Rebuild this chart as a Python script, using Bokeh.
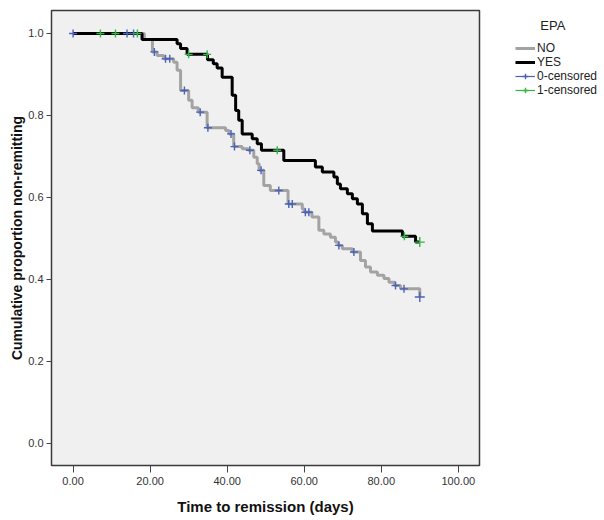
import numpy as np
from bokeh.plotting import figure
from bokeh.models import Range1d, FixedTicker, PrintfTickFormatter, Legend, LegendItem
from bokeh.embed import file_html
from bokeh.resources import INLINE

# ---- data ----
end_time = 90.0

no_times = [0, 18.5, 20.6, 21.8, 23.5, 26.1, 27.0, 27.9, 30.0, 30.9, 32.5, 34.8, 39.6, 40.5,
            41.7, 43.9, 45.5, 46.9, 47.8, 48.3, 49.5, 51.2, 55.8, 59.5, 60.1, 62.0, 63.8,
            65.1, 66.8, 68.1, 68.8, 69.9, 72.5, 74.6, 75.9, 77.2, 79.0, 80.7, 82.0, 83.5,
            85.0, 90.0]
no_surv = [1.0, 0.985, 0.955, 0.946, 0.938, 0.930, 0.910, 0.861, 0.837, 0.819, 0.808, 0.770,
           0.763, 0.755, 0.724, 0.719, 0.715, 0.698, 0.682, 0.666, 0.629, 0.617, 0.584, 0.572,
           0.564, 0.552, 0.520, 0.511, 0.503, 0.491, 0.483, 0.475, 0.467, 0.446, 0.430, 0.418,
           0.410, 0.402, 0.393, 0.385, 0.377, 0.357]
no_censor = [0, 14.0, 15.7, 21.1, 24.0, 25.1, 28.9, 33.0, 35.0, 41.0, 41.9, 45.9, 48.8, 53.4,
             56.0, 56.9, 60.3, 61.2, 69.0, 72.9, 83.7, 85.9, 90.0]

yes_times = [0, 17.9, 27.0, 27.9, 29.6, 34.9, 36.4, 37.4, 38.7, 41.3, 42.2, 43.0, 43.9, 46.5,
             47.8, 48.9, 54.7, 62.9, 64.7, 67.7, 68.6, 69.4, 71.2, 72.5, 73.8, 75.1, 76.4,
             77.7, 85.5, 88.9]
yes_surv = [1.0, 0.985, 0.975, 0.963, 0.949, 0.936, 0.926, 0.916, 0.893, 0.849, 0.812, 0.788,
            0.755, 0.743, 0.731, 0.715, 0.690, 0.674, 0.662, 0.650, 0.633, 0.621, 0.609, 0.597,
            0.584, 0.560, 0.536, 0.518, 0.505, 0.491]
yes_censor = [7.1, 11.0, 16.7, 30.0, 34.8, 53.0, 86.0, 90.0]

x_ticks = [0, 20, 40, 60, 80, 100]
y_ticks = [0.0, 0.2, 0.4, 0.6, 0.8, 1.0]


def step_xy(t, s, end):
    return list(t) + [end], list(s) + [s[-1]]


def surv_at(t, s, c):
    idx = np.searchsorted(np.array(t), np.array(c), side="right") - 1
    return list(np.array(s)[idx])


FONT = "Liberation Sans"
GRAY = "#a3a3a3"
BLUE = "#4a62b8"
GREEN = "#33b548"

p = figure(frame_width=428, frame_height=455, output_backend="svg", toolbar_location=None,
           x_range=Range1d(-5.6, 105.5), y_range=Range1d(-0.054, 1.056),
           min_border_left=51, min_border_right=117, min_border_top=10, min_border_bottom=47,
           background_fill_color="#f0f0f0", border_fill_color="white")
p.outline_line_color = "#3a3a3a"
p.outline_line_width = 1.5
p.grid.visible = False

p.xaxis.ticker = FixedTicker(ticks=x_ticks)
p.xaxis.formatter = PrintfTickFormatter(format="%.2f")
p.yaxis.ticker = FixedTicker(ticks=y_ticks)
p.yaxis.formatter = PrintfTickFormatter(format="%.1f")
for ax in (p.xaxis, p.yaxis):
    ax.axis_line_color = None
    ax.major_tick_in = 0
    ax.minor_tick_line_color = None
    ax.major_tick_line_color = "#444444"
    ax.major_label_text_font = FONT
    ax.major_label_text_font_size = "11px"
    ax.major_label_text_color = "#333333"
    ax.axis_label_text_font = FONT
    ax.axis_label_text_font_style = "bold"
    ax.axis_label_text_color = "#111111"
p.xaxis.axis_label_text_font_size = "15px"
p.yaxis.axis_label_text_font_size = "14px"
p.xaxis.major_tick_out = 7
p.yaxis.major_tick_out = 5
p.xaxis.major_label_standoff = 4
p.yaxis.major_label_standoff = 3
p.xaxis.axis_label_standoff = 10
p.yaxis.axis_label_standoff = 0
p.xaxis.axis_label = "Time to remission (days)"
p.yaxis.axis_label = "Cumulative proportion non-remitting"

nx, ny = step_xy(no_times, no_surv, end_time)
yx, yy = step_xy(yes_times, yes_surv, end_time)
no_line = p.step(nx, ny, mode="after", line_color=GRAY, line_width=3)
yes_line = p.step(yx, yy, mode="after", line_color="black", line_width=3)

no_sizes = [10 if c == end_time else 8 for c in no_censor]
yes_sizes = [10 if c == end_time else 8 for c in yes_censor]
no_c = p.scatter(no_censor, surv_at(no_times, no_surv, no_censor), marker="cross",
                 size=no_sizes, line_color=BLUE, line_width=1.4)
yes_c = p.scatter(yes_censor, surv_at(yes_times, yes_surv, yes_censor), marker="cross",
                  size=yes_sizes, line_color=GREEN, line_width=1.4)

# legend-only line swatches (invisible on the plot: y is NaN)
blue_leg = p.line([no_censor[0], no_censor[1]], [np.nan, np.nan], line_color=BLUE, line_width=1.2)
green_leg = p.line([yes_censor[0], yes_censor[1]], [np.nan, np.nan], line_color=GREEN, line_width=1.2)

legend = Legend(items=[
    LegendItem(label="NO", renderers=[no_line]),
    LegendItem(label="YES", renderers=[yes_line]),
    LegendItem(label="0-censored", renderers=[blue_leg, no_c]),
    LegendItem(label="1-censored", renderers=[green_leg, yes_c]),
], location=(36, 368))
legend.title = "\u00a0" * 7 + "EPA"
legend.title_text_font = FONT
legend.title_text_font_size = "13px"
legend.title_text_font_style = "normal"
legend.title_text_color = "#222222"
legend.title_standoff = 8
legend.label_text_font = FONT
legend.label_text_font_size = "12px"
legend.label_text_color = "#222222"
legend.glyph_width = 20
legend.glyph_height = 14
legend.label_height = 14
legend.label_standoff = 2
legend.spacing = 0
legend.margin = 0
legend.padding = 0
legend.border_line_color = None
legend.background_fill_alpha = 0
p.add_layout(legend, "right")

open("out.html", "w").write(file_html(p, INLINE))
